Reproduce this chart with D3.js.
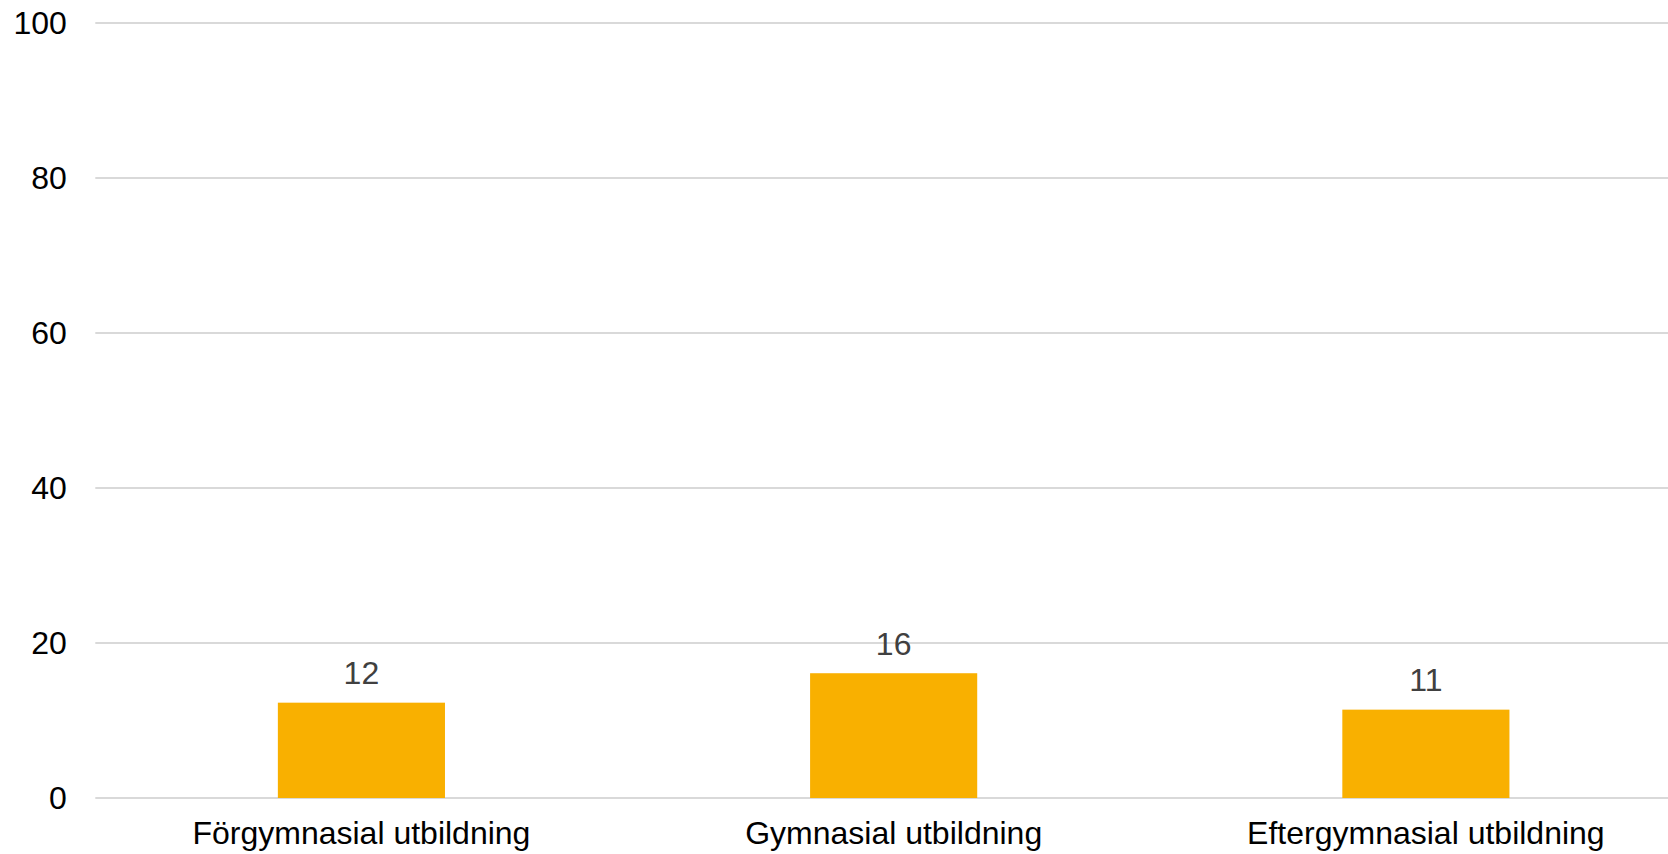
<!DOCTYPE html>
<html><head><meta charset="utf-8">
<script src="https://cdn.jsdelivr.net/npm/d3@7"></script>
<style>html,body{margin:0;padding:0;background:#fff;overflow:hidden}</style>
</head><body>
<svg id="c" width="1668" height="854"></svg>
<script>
const categories = ["Förgymnasial utbildning", "Gymnasial utbildning", "Eftergymnasial utbildning"];
const values = [12.3, 16.1, 11.4];
const labels = ["12", "16", "11"];
const yTicks = [0, 20, 40, 60, 80, 100];

(function () {
const svg = d3.select("#c");
const mLeft = 95.3, mRight = 1692, mTop = 23, mBottom = 798;
const font = "'Liberation Sans', Arial, sans-serif";
const fs = 32;

const x = d3.scaleBand().domain(categories).range([mLeft, mRight]);
const y = d3.scaleLinear().domain([0, 100]).range([mBottom, mTop]);
const barW = x.bandwidth() * 0.314;

// gridlines
svg.append("g").selectAll("line").data(yTicks).join("line")
  .attr("x1", mLeft).attr("x2", 1668)
  .attr("y1", d => y(d)).attr("y2", d => y(d))
  .attr("stroke", "#d9d9d9").attr("stroke-width", 2);

// y axis
const yAxis = svg.append("g").attr("transform", `translate(${mLeft},0)`)
  .call(d3.axisLeft(y).tickValues(yTicks).tickSize(0).tickPadding(28.5));
yAxis.select(".domain").remove();
yAxis.selectAll("text").attr("font-family", font).attr("font-size", fs).attr("fill", "#000");

// bars
svg.append("g").selectAll("rect").data(values).join("rect")
  .attr("x", (d, i) => x(categories[i]) + x.bandwidth() / 2 - barW / 2)
  .attr("width", barW)
  .attr("y", d => y(d))
  .attr("height", d => y(0) - y(d))
  .attr("fill", "#f9b000");

// data labels
svg.append("g").selectAll("text").data(values).join("text")
  .attr("x", (d, i) => x(categories[i]) + x.bandwidth() / 2)
  .attr("y", d => y(d) - 18.5)
  .attr("text-anchor", "middle")
  .attr("font-family", font).attr("font-size", fs).attr("fill", "#404040")
  .text((d, i) => labels[i]);

// x axis
const xAxis = svg.append("g").attr("transform", `translate(0,${mBottom})`)
  .call(d3.axisBottom(x).tickSize(0).tickPadding(0));
xAxis.select(".domain").remove();
xAxis.selectAll("text").attr("dy", null).attr("y", 46)
  .attr("font-family", font).attr("font-size", fs).attr("fill", "#000");
})();
</script>
</body></html>
